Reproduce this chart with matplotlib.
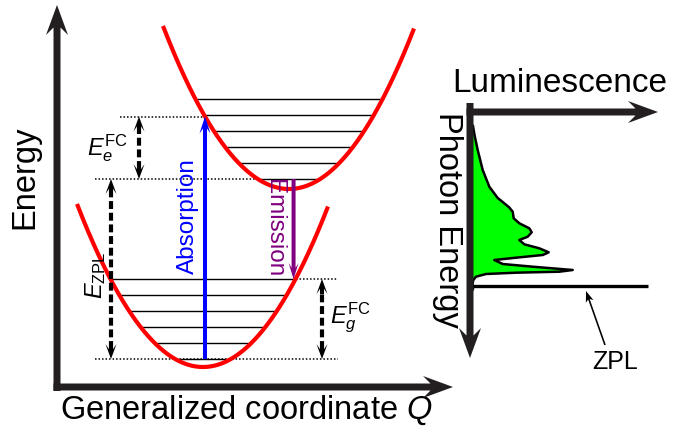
import numpy as np
import matplotlib
matplotlib.use('Agg')
import matplotlib.pyplot as plt

plt.rcParams['font.family'] = ['Liberation Sans', 'DejaVu Sans']
plt.rcParams['mathtext.fontset'] = 'custom'
plt.rcParams['mathtext.rm'] = 'Liberation Sans'
plt.rcParams['mathtext.it'] = 'Liberation Sans:italic'
plt.rcParams['mathtext.bf'] = 'Liberation Sans:bold'

# ---------------- data: configuration-coordinate diagram (arb. units) ----------------
ground_center_q = 146
ground_min_e = 20
excited_center_q = 232
excited_min_e = 198
curvature = 0.01027
ground_q_range = [20, 271]
excited_q_range = [106, 357]
ground_levels = [28, 44, 60, 76, 92, 108]
excited_levels = [208, 224, 240, 256, 272, 288]
absorption_q = 148
ezpl_q = 54
efc_e_q = 82
efc_g_q = 265
guide_left_q = 38
guide_abs_left_q = 63
guide_right_q = 281

# ---------------- data: luminescence spectrum (photon energy downwards) ----------------
spec_energy = [14, 23, 38, 58, 74.7, 86, 90, 95.5, 99.7, 106.3, 111.3, 116.3, 120.3,
               124.7, 128, 132.3, 136.3, 140.3, 143, 145.7, 148, 152, 154.7, 158,
               159.7, 160.7, 162, 164.7, 168, 172, 177, 179.5, 181]
spec_lum = [3, 4.5, 7.7, 12.7, 19.3, 27.7, 32.7, 39.3, 42.7, 43.7, 49.3, 59.3, 61.7,
            57.7, 49.3, 54.3, 69.3, 78.7, 72.7, 46, 24.3, 32.7, 62.7, 102.7,
            89.3, 46, 16, 6, 3.3, 2.5, 3, 1.5, 0.5]
zpl_energy = 174
zpl_height = 178

RED = '#FF0000'
BLUE = '#0000FF'
PURPLE = '#800080'
GREEN = '#00FF00'
AXC = '#231F20'


def ground(q):
    return ground_min_e + curvature * (np.asarray(q) - ground_center_q) ** 2


def excited(q):
    return excited_min_e + curvature * (np.asarray(q) - excited_center_q) ** 2


def half_width(e, emin):
    return np.sqrt((e - emin) / curvature)


fig = plt.figure(figsize=(6.83, 4.28), dpi=100)
ax1 = fig.add_axes([0, 0, 460 / 683, 1])
ax1.set_xlim(-57, 403)
ax1.set_ylim(-41, 387)
ax1.axis('off')
ax1.patch.set_alpha(0)

ax2 = fig.add_axes([430 / 683, 0, 253 / 683, 1])
ax2.set_xlim(-40, 213)
ax2.set_ylim(316, -112)
ax2.axis('off')
ax2.patch.set_alpha(0)


def solid_arrow(ax, x0, y0, x1, y1, width, hw, hl, color, overhang=0.3, z=5):
    ax.arrow(x0, y0, x1 - x0, y1 - y0, width=width, head_width=hw, head_length=hl,
             length_includes_head=True, overhang=overhang, color=color, lw=0,
             clip_on=False, zorder=z)


def dashed_double(ax, q, e0, e1):
    hl, hw = 15, 11
    ax.plot([q, q], [e0 + hl * 0.7, e1 - hl * 0.7], color='k', lw=3,
            ls=(0, (1.9, 0.9)), solid_capstyle='butt', dash_capstyle='butt',
            clip_on=False, zorder=4)
    solid_arrow(ax, q, e1 - hl, q, e1, 4, hw, hl, 'k', overhang=0.35)
    solid_arrow(ax, q, e0 + hl, q, e0, 4, hw, hl, 'k', overhang=0.35)


# ---- main axes arrows (left panel) ----
solid_arrow(ax1, 0, -4, 0, 382, 7, 22, 30, AXC, overhang=0.25)
solid_arrow(ax1, -3.5, 0, 396, 0, 7, 22, 30, AXC, overhang=0.25)

# ---- parabolas ----
qg = np.linspace(ground_q_range[0], ground_q_range[1], 300)
qe = np.linspace(excited_q_range[0], excited_q_range[1], 300)
ax1.plot(qg, ground(qg), color=RED, lw=3, zorder=3, solid_capstyle='butt')
ax1.plot(qe, excited(qe), color=RED, lw=3, zorder=3, solid_capstyle='butt')

# ---- vibrational levels ----
for e in ground_levels:
    hw_ = half_width(e, ground_min_e)
    ax1.plot([ground_center_q - hw_, ground_center_q + hw_], [e, e], color='k', lw=1.0, zorder=2)
for e in excited_levels:
    hw_ = half_width(e, excited_min_e)
    ax1.plot([excited_center_q - hw_, excited_center_q + hw_], [e, e], color='k', lw=1.0, zorder=2)

abs_top = float(excited(absorption_q))
emission_q = ground_center_q + half_width(ground_levels[-1], ground_min_e)
exc_left = excited_center_q - half_width(excited_levels[0], excited_min_e)

# ---- dotted guide lines ----
dot = dict(color='k', lw=1.1, ls=(0, (1, 1.3)), zorder=2)
ax1.plot([guide_abs_left_q, absorption_q], [abs_top, abs_top], **dot)
ax1.plot([guide_left_q, exc_left], [excited_levels[0]] * 2, **dot)
ax1.plot([emission_q, guide_right_q], [ground_levels[-1]] * 2, **dot)
ax1.plot([guide_left_q, guide_right_q], [ground_levels[0]] * 2, **dot)

# ---- transitions ----
solid_arrow(ax1, absorption_q, ground_levels[0], absorption_q, abs_top, 4, 11, 17, BLUE, overhang=0.3)
solid_arrow(ax1, emission_q - 2, excited_levels[0], emission_q - 2, ground_levels[-1], 4, 10, 16, PURPLE, overhang=0.3)

# ---- energy differences ----
dashed_double(ax1, efc_e_q, excited_levels[0], abs_top)
dashed_double(ax1, ezpl_q, ground_levels[0], excited_levels[0])
dashed_double(ax1, efc_g_q, ground_levels[0], ground_levels[-1])

# ---- texts (left) ----
ax1.text(50, 239, r'$E_e^{\mathrm{FC}}$', fontsize=17, ha='center', va='center')
ax1.text(39, 112, r'$E_{\mathrm{ZPL}}$', fontsize=17, ha='center', va='center', rotation=90)
ax1.text(293, 69, r'$E_g^{\mathrm{FC}}$', fontsize=17, ha='center', va='center')
ax1.text(131, 171, 'Absorption', fontsize=17.5, color=BLUE, ha='center', va='center', rotation=90)
ax1.text(217, 159, 'Emission', fontsize=17.5, color=PURPLE, ha='center', va='center', rotation=270)
ax1.text(-32, 210, 'Energy', fontsize=23.5, ha='center', va='center', rotation=90)
ax1.text(189, -23, r'Generalized coordinate $Q$', fontsize=23.5, ha='center', va='center')

# ---- right panel: luminescence spectrum ----
ax2.fill_betweenx(spec_energy, 0, spec_lum, color=GREEN, lw=0, zorder=2)
ax2.plot(spec_lum, spec_energy, color='k', lw=1.8, solid_joinstyle='round', zorder=3)
ax2.plot([0, zpl_height], [zpl_energy, zpl_energy], color='k', lw=2.4, zorder=3,
         solid_capstyle='butt')
solid_arrow(ax2, 0, -9, 0, 246, 7, 22, 30, AXC, overhang=0.25)
solid_arrow(ax2, -3.5, 0, 188, 0, 7, 22, 30, AXC, overhang=0.25)
solid_arrow(ax2, 135, 233, 116, 179, 1.6, 8, 11, 'k', overhang=0.2)

ax2.text(90, -29, 'Luminescence', fontsize=24, ha='center', va='center')
ax2.text(-23, 108, 'Photon Energy', fontsize=23.5, ha='center', va='center', rotation=270)
ax2.text(145, 250, 'ZPL', fontsize=18, ha='center', va='center')

fig.savefig('out.png', dpi=100)
